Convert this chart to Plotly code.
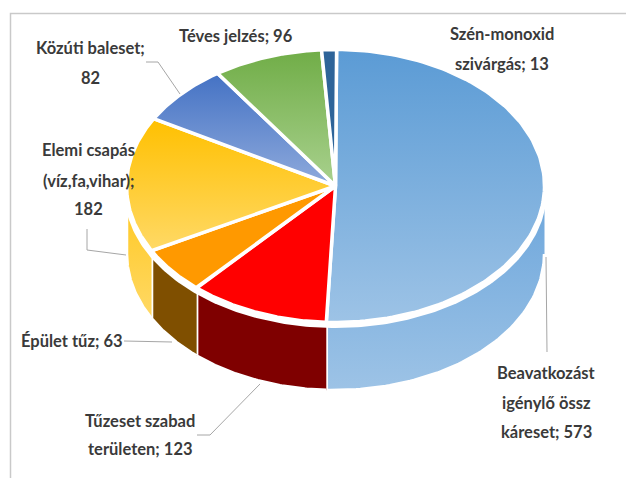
import numpy as np
import plotly.graph_objects as go

categories = ["Beavatkozást igénylő össz káreset", "Tűzeset szabad területen", "Épület tűz",
              "Elemi csapás (víz,fa,vihar)", "Közúti baleset", "Téves jelzés", "Szén-monoxid szivárgás"]
values = [573, 123, 63, 182, 82, 96, 13]
top_colors = [("#5B9BD5", "#9DC3E6"), ("#FF0000", "#FF0000"), ("#FF9900", "#FF9900"),
              ("#FFC000", "#FFD966"), ("#4472C4", "#8FAADC"), ("#70AD47", "#A9D18E"), ("#2E6499", "#2E6499")]
side_colors = [("#6BA5DB", "#9DC3E6"), ("#7F0000", "#7F0000"), ("#7F4F00", "#7F4F00"),
               ("#FFC61A", "#FFD966"), ("#4472C4", "#4472C4"), ("#70AD47", "#70AD47"), ("#2E6499", "#2E6499")]
label_lines = [
    ("Beavatkozást", 546, 373), ("igénylő össz", 546, 403), ("káreset; 573", 546, 432),
    ("Tűzeset szabad", 140, 421), ("területen; 123", 140, 449),
    ("Épület tűz; 63", 72, 341),
    ("Elemi csapás", 88, 150), ("(víz,fa,vihar);", 88, 181), ("182", 88, 209),
    ("Közúti baleset;", 90, 48), ("82", 90, 78),
    ("Téves jelzés; 96", 236, 36),
    ("Szén-monoxid", 502, 34), ("szivárgás; 13", 502, 64),
]
leaders = [
    [(146, 62), (158, 62), (180, 94)],
    [(87, 229), (87, 250), (126, 255)],
    [(124, 341), (172, 342)],
    [(197, 435), (210, 435), (260, 384)],
    [(546, 257), (547, 352)],
]

CX, CY, RX, RY, DEPTH, START = 335.5, 186.0, 209.0, 136.5, 68.0, 0.3
WHITE_W = 3.5
PAGE_MARGIN = 8  # the browser's default body margin offsets the figure


def grad(c):
    # the y axis runs downwards, so the scale is given bottom colour first
    return dict(type="vertical", colorscale=[[0, c[1]], [1, c[0]]])


def ex(t):
    return CX + RX * np.sin(np.radians(t))


def ey(t):
    return CY - RY * np.cos(np.radians(t))


fig = go.Figure()

# chart-area border
fig.add_trace(go.Scatter(x=[10.5, 10.5, 640], y=[480, 13.5, 13.5], mode="lines", cliponaxis=False,
                         line=dict(color="#C9C9C9", width=1.5), hoverinfo="skip", showlegend=False))

total = sum(values)
edges = START + np.concatenate([[0], np.cumsum(values)]) * 360.0 / total

# side walls (front half only)
for i in range(len(values)):
    a, b = max(edges[i], 90), min(edges[i + 1], 270)
    if b <= a:
        continue
    t = np.linspace(a, b, 80)
    x = np.concatenate([ex(t), ex(t[::-1])])
    y = np.concatenate([ey(t), ey(t[::-1]) + DEPTH])
    fig.add_trace(go.Scatter(x=x, y=y, mode="lines", fill="toself", fillgradient=grad(side_colors[i]),
                             line=dict(color="white", width=WHITE_W), hoverinfo="skip", showlegend=False))

# white gap between lid and wall
t = np.linspace(0, 360, 361)
fig.add_trace(go.Scatter(x=CX + (RX + 2.5) * np.sin(np.radians(t)), y=CY + 4.5 - (RY + 1) * np.cos(np.radians(t)),
                         mode="lines", fill="toself", fillcolor="white", line=dict(color="white", width=0),
                         hoverinfo="skip", showlegend=False))

# lid
for i in range(len(values)):
    t = np.linspace(edges[i], edges[i + 1], 120)
    x = np.concatenate([[CX], ex(t), [CX]])
    y = np.concatenate([[CY], ey(t), [CY]])
    fig.add_trace(go.Scatter(x=x, y=y, mode="lines", fill="toself", fillgradient=grad(top_colors[i]),
                             line=dict(color="white", width=WHITE_W), hoverinfo="skip",
                             showlegend=False, name=categories[i]))

for pts in leaders:
    fig.add_trace(go.Scatter(x=[p[0] for p in pts], y=[p[1] for p in pts], mode="lines",
                             line=dict(color="#A6A6A6", width=1), hoverinfo="skip", showlegend=False))

for text, x, y in label_lines:
    fig.add_annotation(x=x, y=y, text=f"<b>{text}</b>", showarrow=False, xanchor="center", yanchor="middle",
                       font=dict(family="Lato", size=16.5, color="#3A3A3A"))

fig.update_layout(
    width=634 - PAGE_MARGIN, height=478 - PAGE_MARGIN, margin=dict(l=0, r=0, t=0, b=0),
    paper_bgcolor="white", plot_bgcolor="white",
    xaxis=dict(range=[PAGE_MARGIN, 634], visible=False, fixedrange=True),
    yaxis=dict(range=[478, PAGE_MARGIN], visible=False, fixedrange=True),
)
fig.write_html("out.html")
